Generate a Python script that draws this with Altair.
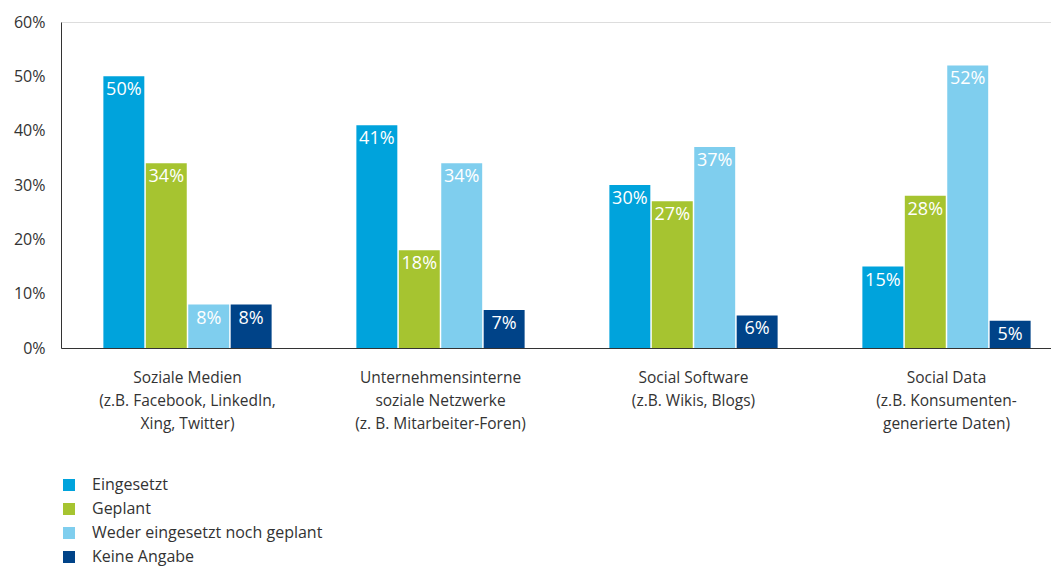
import altair as alt
import pandas as pd

categories = [
    "Soziale Medien|(z.B. Facebook, LinkedIn,|Xing, Twitter)",
    "Unternehmensinterne|soziale Netzwerke|(z. B. Mitarbeiter-Foren)",
    "Social Software|(z.B. Wikis, Blogs)",
    "Social Data|(z.B. Konsumenten-|generierte Daten)",
]
series = ["Eingesetzt", "Geplant", "Weder eingesetzt noch geplant", "Keine Angabe"]
eingesetzt = [50, 41, 30, 15]
geplant = [34, 18, 27, 28]
weder = [8, 34, 37, 52]
keine = [8, 7, 6, 5]
colors = ["#00A3DC", "#A6C430", "#7FCEEE", "#004388"]
y_ticks = [0, 10, 20, 30, 40, 50, 60]

rows = []
for s, vals in zip(series, [eingesetzt, geplant, weder, keine]):
    for c, v in zip(categories, vals):
        rows.append({"cat": c, "series": s, "value": v})
df = pd.DataFrame(rows)

FONT = "Open Sans"

base = alt.Chart(df).encode(
    x=alt.X(
        "cat:N",
        sort=categories,
        scale=alt.Scale(paddingInner=0.335, paddingOuter=0.1675, range=[0, 1012]),
        axis=alt.Axis(
            title=None,
            labelExpr="split(datum.label, '|')",
            labelAngle=0,
            labelFontSize=15.5,
            labelColor="#333333",
            labelLineHeight=23,
            labelPadding=22,
            labelBaseline="top",
            labelLimit=400,
            ticks=False,
            domainColor="#333333",
            domainWidth=1,
            labelFont=FONT,
        ),
    ),
    xOffset=alt.XOffset("series:N", sort=series, scale=alt.Scale(paddingInner=0.035)),
    y=alt.Y(
        "value:Q",
        scale=alt.Scale(domain=[0, 60], nice=False),
        axis=alt.Axis(
            title=None,
            values=y_ticks,
            labelExpr="datum.value + '%'",
            grid=False,
            ticks=False,
            labelPadding=16,
            labelFontSize=16,
            labelColor="#333333",
            domainColor="#333333",
            domainWidth=1,
            labelFont=FONT,
        ),
    ),
)

bars = base.mark_bar().encode(
    color=alt.Color(
        "series:N",
        sort=series,
        scale=alt.Scale(domain=series, range=colors),
        legend=alt.Legend(
            title=None,
            orient="none",
            legendX=0,
            legendY=455,
            direction="vertical",
            symbolType="square",
            symbolSize=144,
            symbolStrokeWidth=0,
            labelFontSize=16,
            labelColor="#333333",
            labelFont=FONT,
            labelOffset=15,
            labelLimit=400,
            rowPadding=8,
        ),
    )
)

labels = base.mark_text(
    baseline="top", align="center", dy=5, color="white", fontSize=18, font=FONT
).encode(text="lbl:N").transform_calculate(lbl="datum.value + '%'")

chart = (
    alt.layer(bars, labels)
    .properties(
        width=990,
        height=326,
        autosize=alt.AutoSizeParams(type="none"),
        padding={"left": 53, "top": 14, "right": 0, "bottom": 219},
    )
    .configure_view(stroke=None)
    .configure(font=FONT)
)

chart.save("out.html", embed_options={"renderer": "svg", "actions": False})
